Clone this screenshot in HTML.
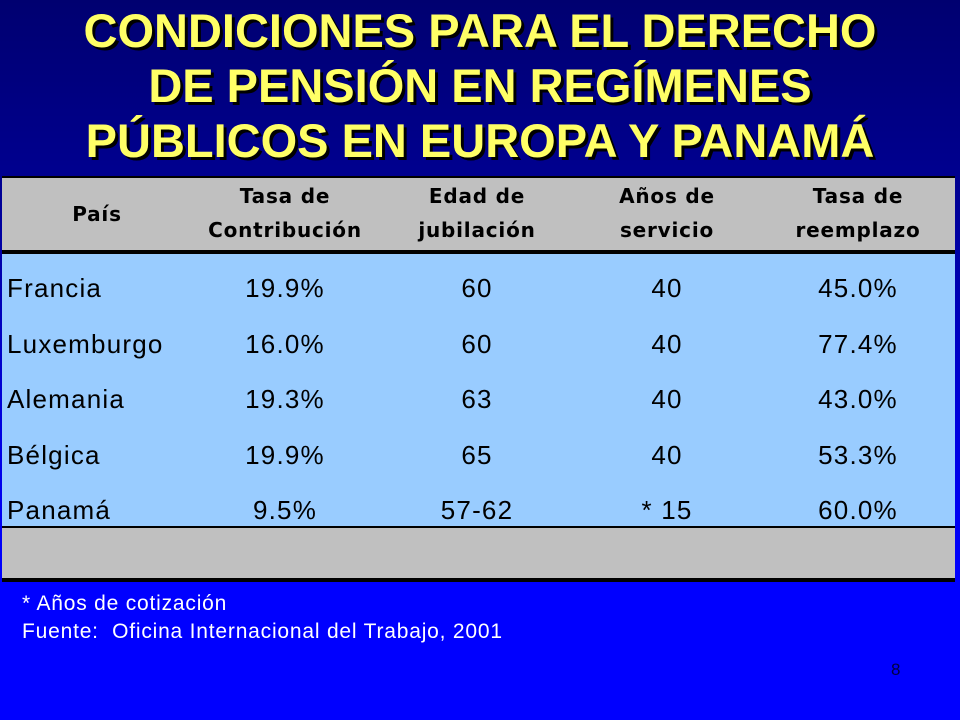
<!DOCTYPE html>
<html><head><meta charset="utf-8"><style>
body{margin:0;width:960px;height:720px;overflow:hidden;background:linear-gradient(180deg,#000070 0%,#000090 25%,#0000e0 60%,#0000ff 80%);font-family:"Liberation Sans",Arial,sans-serif;position:relative}
.title{position:absolute;left:0;top:3px;width:960px;text-align:center;color:#ffff66;font-weight:bold;font-size:47px;line-height:55px;text-shadow:3px 3px 0 #000}
.tbl{position:absolute;left:2px;top:176px;width:953px;height:406px;background:#c0c0c0;border-top:2px solid #000;border-bottom:4px solid #000;box-sizing:border-box}
.body{position:absolute;left:2px;top:250px;width:953px;height:278px;background:#99ccff;border-top:4px solid #000;border-bottom:2px solid #000;box-sizing:border-box}
.c{position:absolute;transform:translateX(-50%);white-space:nowrap;text-align:center;color:#000}
.h{font-family:"DejaVu Sans",Verdana,sans-serif;font-weight:bold;font-size:20px;line-height:34px;letter-spacing:0.8px}
.r{font-size:26px;letter-spacing:1.2px}
.l{position:absolute;left:7px;font-size:26px;letter-spacing:1.2px}
.note{position:absolute;left:22px;color:#fff;font-size:21px;line-height:28px;letter-spacing:0.8px}
</style></head><body>
<div class="title">CONDICIONES PARA EL DERECHO<br>DE PENSIÓN EN REGÍMENES<br>PÚBLICOS EN EUROPA Y PANAMÁ</div>
<div class="tbl"></div>
<div class="body"></div>
<div>
<div class="c h" style="left:97px;top:197px">País</div>
<div class="c h" style="left:285px;top:179px">Tasa de<br>Contribución</div>
<div class="c h" style="left:477px;top:179px">Edad de<br>jubilación</div>
<div class="c h" style="left:667px;top:179px">Años de<br>servicio</div>
<div class="c h" style="left:858px;top:179px">Tasa de<br>reemplazo</div>
</div>
<div id="rows"></div>
<div class="note" style="top:590px">* Años de cotización</div>
<div class="note" style="top:618px">Fuente:&nbsp; Oficina Internacional del Trabajo, 2001</div>
<div style="position:absolute;left:891px;top:660px;font-size:17px;color:#000040">8</div>
<script>
const rows=[["Francia","19.9%","60","40","45.0%"],["Luxemburgo","16.0%","60","40","77.4%"],["Alemania","19.3%","63","40","43.0%"],["Bélgica","19.9%","65","40","53.3%"],["Panamá","9.5%","57-62","* 15","60.0%"]];
const xs=[285,477,667,858];
const c=document.getElementById('rows');
rows.forEach((r,i)=>{const y=273+i*55.5;
const d=document.createElement('div');d.className='l';d.style.top=y+'px';d.textContent=r[0];


c.appendChild(d);
for(let j=1;j<5;j++){const e=document.createElement('div');e.className='c r';e.style.left=xs[j-1]+'px';e.style.top=y+'px';e.textContent=r[j];


c.appendChild(e);}});
</script>
</body></html>
